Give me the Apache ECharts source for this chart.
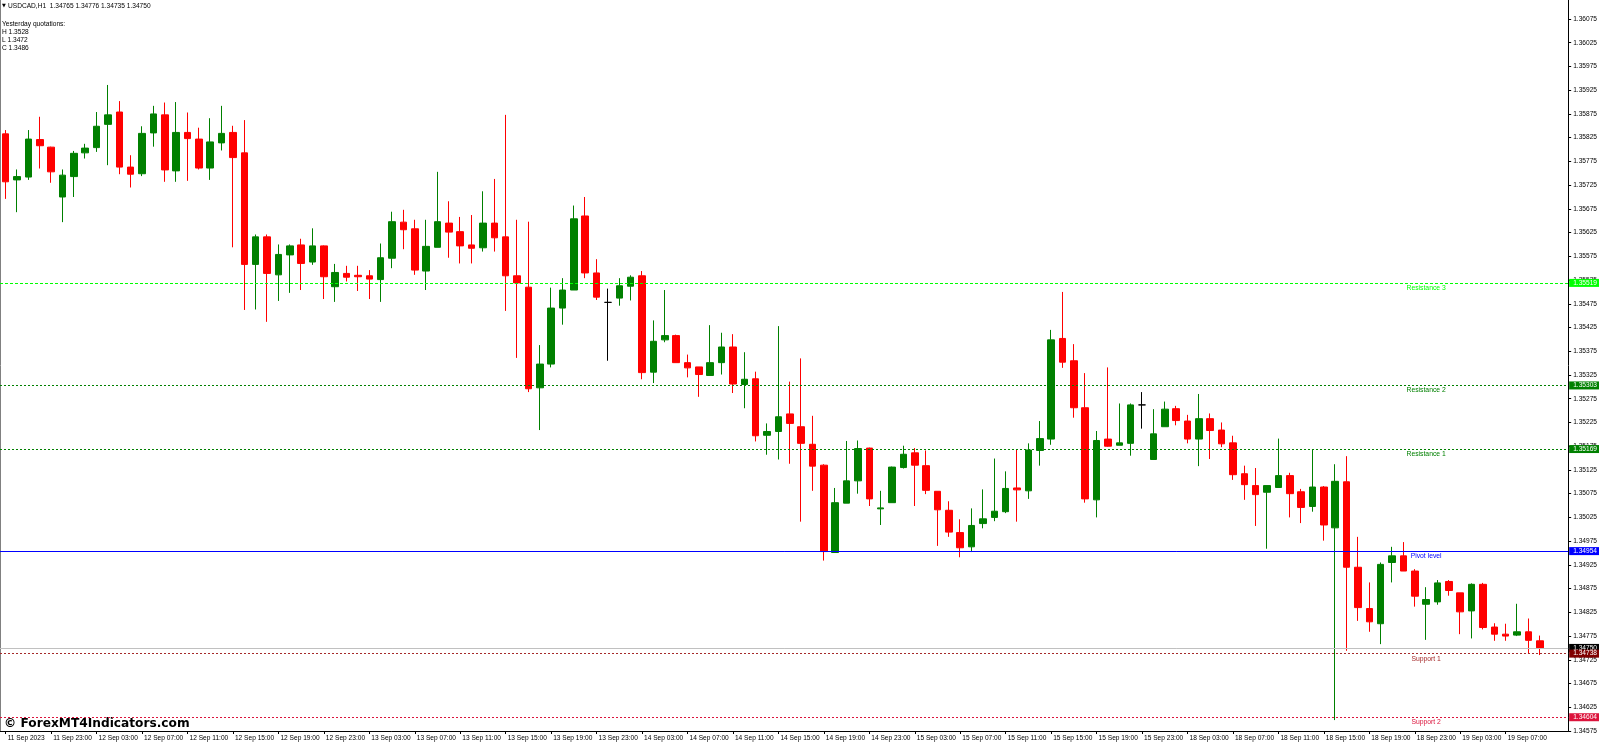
<!DOCTYPE html>
<html>
<head>
<meta charset="utf-8">
<script src="https://cdn.jsdelivr.net/npm/echarts@6/dist/echarts.min.js"></script>
<style>html,body{margin:0;padding:0;background:#fff;}#chart{width:1600px;height:747px;}</style>
</head>
<body>
<div id="chart"></div>
<script>
// ---- data ----
const symbolName = 'USDCAD,H1';
// trading sessions shown on the chart: [day, first hour, last hour]
const sessions = [['11 Sep',19,23],['12 Sep',0,23],['13 Sep',0,23],['14 Sep',0,23],['15 Sep',0,23],['18 Sep',0,23],['19 Sep',0,12]];
// OHLC candles: [open, close, low, high]
const ohlc = [
[1.35833,1.35732,1.35696,1.35841],[1.35736,1.35743,1.35668,1.35758],[1.35742,1.35822,1.35736,1.35841],[1.35821,1.35808,1.35760,1.35869],
[1.35805,1.35753,1.35730,1.35806],[1.35700,1.35746,1.35647,1.35758],[1.35743,1.35792,1.35700,1.35797],[1.35793,1.35803,1.35781,1.35812],
[1.35804,1.35849,1.35795,1.35879],[1.35853,1.35873,1.35767,1.35936],[1.35879,1.35763,1.35748,1.35902],[1.35763,1.35748,1.35720,1.35788],
[1.35749,1.35834,1.35744,1.35849],[1.35835,1.35875,1.35806,1.35892],[1.35873,1.35757,1.35732,1.35899],[1.35755,1.35836,1.35732,1.35900],
[1.35836,1.35823,1.35734,1.35878],[1.35822,1.35761,1.35758,1.35846],[1.35761,1.35816,1.35736,1.35866],[1.35814,1.35834,1.35798,1.35892],
[1.35836,1.35783,1.35594,1.35850],[1.35793,1.35558,1.35462,1.35862],[1.35558,1.35616,1.35463,1.35621],[1.35616,1.35539,1.35437,1.35621],
[1.35536,1.35579,1.35481,1.35600],[1.35578,1.35597,1.35498,1.35600],[1.35599,1.35560,1.35504,1.35612],[1.35563,1.35597,1.35557,1.35634],
[1.35597,1.35532,1.35485,1.35598],[1.35511,1.35541,1.35479,1.35559],[1.35539,1.35531,1.35522,1.35555],[1.35535,1.35532,1.35502,1.35555],
[1.35534,1.35527,1.35485,1.35546],[1.35526,1.35572,1.35479,1.35602],[1.35571,1.35648,1.35550,1.35669],[1.35647,1.35631,1.35590,1.35673],
[1.35633,1.35546,1.35536,1.35652],[1.35544,1.35596,1.35504,1.35652],[1.35594,1.35648,1.35594,1.35753],[1.35645,1.35626,1.35572,1.35691],
[1.35627,1.35597,1.35560,1.35658],[1.35599,1.35592,1.35560,1.35662],[1.35593,1.35645,1.35585,1.35712],[1.35645,1.35614,1.35585,1.35738],
[1.35616,1.35534,1.35460,1.35873],[1.35534,1.35519,1.35361,1.35652],[1.35510,1.35296,1.35289,1.35648],[1.35298,1.35348,1.35209,1.35388],
[1.35348,1.35466,1.35341,1.35509],[1.35466,1.35504,1.35431,1.35529],[1.35504,1.35654,1.35504,1.35682],[1.35660,1.35540,1.35529,1.35700],
[1.35540,1.35489,1.35483,1.35569],[1.35478,1.35478,1.35355,1.35507],[1.35487,1.35513,1.35471,1.35529],[1.35512,1.35531,1.35482,1.35535],
[1.35534,1.35330,1.35316,1.35544],[1.35331,1.35396,1.35308,1.35440],[1.35399,1.35408,1.35394,1.35504],[1.35408,1.35351,1.35351,1.35410],
[1.35351,1.35340,1.35320,1.35368],[1.35342,1.35326,1.35279,1.35342],[1.35324,1.35351,1.35324,1.35430],[1.35351,1.35384,1.35326,1.35414],
[1.35384,1.35306,1.35287,1.35411],[1.35305,1.35316,1.35255,1.35373],[1.35317,1.35197,1.35185,1.35332],[1.35198,1.35206,1.35157,1.35223],
[1.35206,1.35237,1.35147,1.35428],[1.35243,1.35223,1.35138,1.35311],[1.35216,1.35181,1.35016,1.35360],[1.35179,1.35133,1.35081,1.35239],
[1.35135,1.34953,1.34934,1.35137],[1.34951,1.35056,1.34951,1.35087],[1.35055,1.35102,1.35055,1.35186],[1.35102,1.35170,1.35075,1.35187],
[1.35171,1.35064,1.35049,1.35172],[1.35043,1.35045,1.35009,1.35081],[1.35056,1.35131,1.35056,1.35132],[1.35130,1.35158,1.35128,1.35176],
[1.35161,1.35135,1.35049,1.35171],[1.35134,1.35082,1.35074,1.35166],[1.35080,1.35041,1.34965,1.35080],[1.35040,1.34994,1.34984,1.35059],
[1.34993,1.34961,1.34941,1.35021],[1.34963,1.35008,1.34952,1.35044],[1.35012,1.35022,1.35002,1.35084],[1.35025,1.35038,1.35017,1.35149],
[1.35037,1.35086,1.35034,1.35122],[1.35087,1.35083,1.35016,1.35167],[1.35081,1.35167,1.35064,1.35181],[1.35166,1.35191,1.35134,1.35228],
[1.35190,1.35399,1.35178,1.35420],[1.35402,1.35352,1.35340,1.35500],[1.35355,1.35256,1.35235,1.35390],[1.35256,1.35064,1.35056,1.35329],
[1.35062,1.35187,1.35025,1.35207],[1.35190,1.35175,1.35174,1.35341],[1.35177,1.35182,1.35177,1.35265],[1.35181,1.35262,1.35155,1.35265],
[1.35262,1.35262,1.35212,1.35289],[1.35147,1.35201,1.35147,1.35253],[1.35216,1.35253,1.35216,1.35269],[1.35254,1.35229,1.35219,1.35260],
[1.35228,1.35190,1.35181,1.35241],[1.35190,1.35233,1.35133,1.35285],[1.35233,1.35208,1.35148,1.35244],[1.35209,1.35180,1.35173,1.35225],
[1.35182,1.35115,1.35104,1.35197],[1.35117,1.35094,1.35062,1.35134],[1.35092,1.35073,1.35007,1.35129],[1.35078,1.35092,1.34959,1.35092],
[1.35088,1.35113,1.35088,1.35191],[1.35113,1.35075,1.35025,1.35119],[1.35079,1.35046,1.35013,1.35085],[1.35048,1.35089,1.35037,1.35167],
[1.35089,1.35009,1.34976,1.35091],[1.35003,1.35101,1.34598,1.35137],[1.35100,1.34920,1.34744,1.35154],[1.34920,1.34835,1.34807,1.34984],
[1.34833,1.34805,1.34784,1.34888],[1.34801,1.34926,1.34758,1.34930],[1.34930,1.34944,1.34888,1.34963],[1.34944,1.34912,1.34912,1.34973],
[1.34912,1.34859,1.34837,1.34916],[1.34842,1.34852,1.34767,1.34878],[1.34847,1.34887,1.34841,1.34893],[1.34890,1.34871,1.34860,1.34893],
[1.34866,1.34826,1.34779,1.34866],[1.34828,1.34884,1.34770,1.34886],[1.34884,1.34793,1.34789,1.34887],[1.34794,1.34779,1.34765,1.34802],
[1.34779,1.34775,1.34765,1.34801],[1.34777,1.34784,1.34775,1.34843],[1.34784,1.34766,1.34739,1.34812],[1.34765,1.34750,1.34735,1.34776]
];
// pivot indicator levels
const levelNames  = ['Resistance 3','Resistance 2','Resistance 1','Pivot level','Support 1','Support 2'];
const levelValues = [1.35519, 1.35303, 1.35169, 1.34954, 1.34738, 1.34604];
const yesterdayHLC = [1.3528, 1.3472, 1.3486];
// price axis tick labels
const yTicks = [1.34575,1.34625,1.34675,1.34725,1.34775,1.34825,1.34875,1.34925,1.34975,1.35025,1.35075,1.35125,1.35175,1.35225,1.35275,1.35325,1.35375,1.35425,1.35475,1.35525,1.35575,1.35625,1.35675,1.35725,1.35775,1.35825,1.35875,1.35925,1.35975,1.36025,1.36075];
// time axis tick labels (category -> shown text)
const xTickCats = ['11 Sep 19:00','11 Sep 23:00','12 Sep 03:00','12 Sep 07:00','12 Sep 11:00','12 Sep 15:00','12 Sep 19:00','12 Sep 23:00','13 Sep 03:00','13 Sep 07:00','13 Sep 11:00','13 Sep 15:00','13 Sep 19:00','13 Sep 23:00','14 Sep 03:00','14 Sep 07:00','14 Sep 11:00','14 Sep 15:00','14 Sep 19:00','14 Sep 23:00','15 Sep 03:00','15 Sep 07:00','15 Sep 11:00','15 Sep 15:00','15 Sep 19:00','15 Sep 23:00','18 Sep 03:00','18 Sep 07:00','18 Sep 11:00','18 Sep 15:00','18 Sep 19:00','18 Sep 23:00','19 Sep 03:00','19 Sep 07:00'];
const xTickTexts = ['11 Sep 2023','11 Sep 23:00','12 Sep 03:00','12 Sep 07:00','12 Sep 11:00','12 Sep 15:00','12 Sep 19:00','12 Sep 23:00','13 Sep 03:00','13 Sep 07:00','13 Sep 11:00','13 Sep 15:00','13 Sep 19:00','13 Sep 23:00','14 Sep 03:00','14 Sep 07:00','14 Sep 11:00','14 Sep 15:00','14 Sep 19:00','14 Sep 23:00','15 Sep 03:00','15 Sep 07:00','15 Sep 11:00','15 Sep 15:00','15 Sep 19:00','15 Sep 23:00','18 Sep 03:00','18 Sep 07:00','18 Sep 11:00','18 Sep 15:00','18 Sep 19:00','18 Sep 23:00','19 Sep 03:00','19 Sep 07:00'];

// ---- build ----
const categories = [];
sessions.forEach(([d, h0, h1]) => { for (let h = h0; h <= h1; h++) categories.push(d + ' ' + String(h).padStart(2, '0') + ':00'); });
const tickMap = {};
xTickCats.forEach((c, i) => { tickMap[c] = xTickTexts[i]; });
const last = ohlc[ohlc.length - 1];
const lastClose = last[1];

const FONT = '"Liberation Sans", Arial, sans-serif';
const FS = 6.6;
const lineStyles = [
  {color:'#00FF00', type:[3,2]},
  {color:'#008000', type:[2,2]},
  {color:'#008000', type:[2,2]},
  {color:'#0000FF', type:'solid'},
  {color:'#A52A2A', type:[2,2]},
  {color:'#DC143C', type:[2,2]}
];
const boxColors = ['#00FF00','#008000','#008000','#0000FF','#800000','#DC143C'];
const textColors = ['#00FF00','#008000','#008000','#0000FF','#A52A2A','#DC143C'];

function boxLabel(bg) {
  return {
    show: true, position: 'end', distance: 1,
    formatter: p => Number(p.value).toFixed(5),
    color: '#fff', backgroundColor: bg, fontFamily: FONT, fontSize: FS,
    padding: [1, 2, 0, 4], lineHeight: 7
  };
}

const markLineData = [
  { yAxis: lastClose, lineStyle: {color:'#C0C0C0', type:'solid', width:1}, label: boxLabel('#000000') }
];
levelValues.forEach((v, i) => {
  markLineData.push({ yAxis: v, lineStyle: Object.assign({width:1}, lineStyles[i]), label: boxLabel(boxColors[i]) });
});
const labelCat = categories[125];
const markPointData = levelValues.map((v, i) => ({
  name: levelNames[i], coord: [labelCat, v],
  label: { color: textColors[i] }
}));

const chart = echarts.init(document.getElementById('chart'), null, {renderer: 'canvas'});
chart.setOption({
  animation: false,
  backgroundColor: '#ffffff',
  grid: { left: -4, right: 31, top: 0, bottom: 16, containLabel: false },
  xAxis: {
    type: 'category', data: categories, boundaryGap: true,
    axisLine: { show: true, lineStyle: { color: '#000', width: 1 } },
    axisTick: { show: true, alignWithLabel: true, length: 3, lineStyle: { color: '#000' },
      interval: (idx, val) => tickMap[val] !== undefined },
    axisLabel: { show: true, interval: (idx, val) => tickMap[val] !== undefined,
      formatter: v => tickMap[v], align: 'left', padding: [0, 0, 0, 2],
      fontFamily: FONT, fontSize: FS, color: '#000', margin: 4 },
    splitLine: { show: false }
  },
  yAxis: {
    type: 'value', position: 'right', min: 1.34575, max: 1.36115, scale: true,
    axisLine: { show: true, lineStyle: { color: '#000', width: 1 } },
    axisTick: { show: true, length: 3, lineStyle: { color: '#000' }, customValues: yTicks },
    axisLabel: { show: true, customValues: yTicks, formatter: v => v.toFixed(5),
      fontFamily: FONT, fontSize: FS, color: '#000', margin: 5 },
    splitLine: { show: false }
  },
  series: [{
    type: 'candlestick',
    data: ohlc,
    barWidth: 7,
    itemStyle: {
      color: '#008000', color0: '#FF0000',
      borderColor: '#008000', borderColor0: '#FF0000', borderColorDoji: '#000000',
      borderWidth: 1
    },
    emphasis: { disabled: true },
    markLine: {
      silent: true, symbol: ['none', 'none'], animation: false, precision: 5,
      data: markLineData
    },
    markPoint: {
      silent: true, animation: false, precision: 5,
      symbol: 'rect', symbolSize: 1, itemStyle: { color: 'rgba(0,0,0,0)' },
      label: { show: true, position: 'bottom', distance: 1, formatter: p => p.name,
        fontFamily: FONT, fontSize: 6.8 },
      data: markPointData
    }
  }],
  graphic: [
    { type: 'line', shape: { x1: 0.5, y1: 0, x2: 0.5, y2: 731 }, style: { stroke: '#808080', lineWidth: 1 }, silent: true },
    { type: 'text', x: 2, y: 6, style: { text: '\u25BC', font: '5px "DejaVu Sans"', fill: '#000', verticalAlign: 'middle' } },
    { type: 'text', x: 8, y: 6, style: { text: symbolName + '  ' + [last[0], last[3], last[2], last[1]].map(v => v.toFixed(5)).join(' '),
      font: FS + 'px ' + FONT, fill: '#000', verticalAlign: 'middle' } },
    { type: 'text', x: 2, y: 24.3, style: { text: 'Yesterday quotations:', font: FS + 'px ' + FONT, fill: '#000', verticalAlign: 'middle' } },
    { type: 'text', x: 2, y: 32.5, style: { text: 'H ' + yesterdayHLC[0].toFixed(4), font: FS + 'px ' + FONT, fill: '#000', verticalAlign: 'middle' } },
    { type: 'text', x: 2, y: 40.5, style: { text: 'L ' + yesterdayHLC[1].toFixed(4), font: FS + 'px ' + FONT, fill: '#000', verticalAlign: 'middle' } },
    { type: 'text', x: 2, y: 48.5, style: { text: 'C ' + yesterdayHLC[2].toFixed(4), font: FS + 'px ' + FONT, fill: '#000', verticalAlign: 'middle' } },
    { type: 'text', x: 4, y: 724, style: { text: '\u00A9 ForexMT4Indicators.com', font: 'bold 12.2px "DejaVu Sans"', fill: '#000', verticalAlign: 'middle' } }
  ]
});
</script>
</body>
</html>
